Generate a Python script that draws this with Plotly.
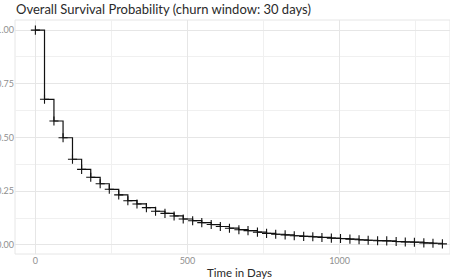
import plotly.graph_objects as go

days = [0, 30, 61, 91, 122, 152, 182, 213, 243, 274, 304, 334, 365, 395, 426, 456,
        486, 517, 547, 578, 608, 638, 669, 699, 730, 760, 790, 821, 851, 882, 912,
        942, 973, 1003, 1034, 1064, 1094, 1125, 1155, 1186, 1216, 1246, 1277, 1307, 1338]
survival = [1.000, 0.678, 0.577, 0.499, 0.399, 0.352, 0.315, 0.285, 0.259, 0.233,
            0.206, 0.191, 0.174, 0.157, 0.147, 0.135, 0.121, 0.113, 0.104, 0.095,
            0.086, 0.078, 0.071, 0.067, 0.060, 0.054, 0.050, 0.047, 0.043, 0.040,
            0.038, 0.035, 0.032, 0.030, 0.027, 0.024, 0.022, 0.020, 0.019, 0.016,
            0.014, 0.013, 0.010, 0.008, 0.005]
x_ticks = [0, 500, 1000]
y_ticks = [0, 0.25, 0.5, 0.75, 1.0]

fig = go.Figure()
fig.add_trace(go.Scatter(
    x=days, y=survival, mode="lines+markers",
    line=dict(shape="hv", color="#111111", width=1.2),
    marker=dict(symbol="cross-thin", size=6.5, line=dict(color="#111111", width=1.1)),
    showlegend=False,
))

grid = "#e6e6e6"
minor_grid = "#f0f0f0"
fig.update_layout(
    width=450, height=280,
    margin=dict(l=15, r=0, t=20, b=26),
    plot_bgcolor="white", paper_bgcolor="white",
    font=dict(family="Lato, sans-serif"),
    title=dict(text="Overall Survival Probability (churn window: 30 days)",
               x=16 / 450, xanchor="left", y=1 - 9 / 280, yanchor="middle",
               font=dict(size=13, color="#2a2a2a")),
    xaxis=dict(range=[-67, 1363], tickvals=x_ticks, ticktext=[str(v) for v in x_ticks],
               showgrid=True, gridcolor=grid, gridwidth=1, zeroline=False,
               showline=False, ticks="", automargin=False,
               tickfont=dict(size=9, color="#8f8f8f"),
               minor=dict(tickvals=[250, 750, 1250], showgrid=True, gridcolor=minor_grid, gridwidth=1)),
    yaxis=dict(range=[-0.042, 1.047], tickvals=y_ticks, tickformat=".2f",
               showgrid=True, gridcolor=grid, gridwidth=1, zeroline=False,
               showline=False, ticks="", automargin=False,
               tickfont=dict(size=9, color="#8f8f8f"),
               minor=dict(tickvals=[0.125, 0.375, 0.625, 0.875], showgrid=True, gridcolor=minor_grid, gridwidth=1)),
)
fig.add_shape(type="rect", xref="paper", yref="paper", x0=0, x1=1, y0=0, y1=1,
              line=dict(color="#e6e6e6", width=1), layer="below")
fig.add_annotation(text="Time in Days", xref="paper", yref="paper",
                   x=(239 - 15) / 435, y=-(272 - 254) / 234, xanchor="center", yanchor="middle",
                   showarrow=False, font=dict(size=11.5, color="#2a2a2a"))
fig.write_html("out.html")
